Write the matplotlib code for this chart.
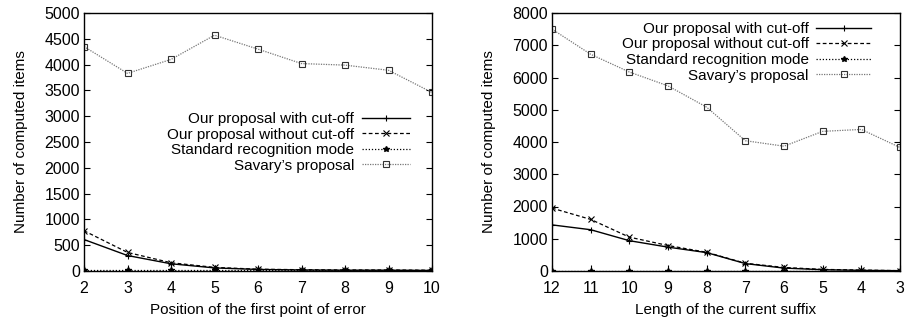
import matplotlib.pyplot as plt
import numpy as np

# left panel: position of first point of error
pos_error = [2, 3, 4, 5, 6, 7, 8, 9, 10]
left_cutoff = [610, 300, 140, 60, 30, 20, 15, 15, 10]
left_nocutoff = [780, 360, 160, 70, 35, 25, 20, 20, 15]
left_standard = [10, 10, 10, 10, 10, 10, 10, 10, 10]
left_savary = [4350, 3830, 4100, 4570, 4300, 4020, 3990, 3890, 3460]

# right panel: length of current suffix (axis reversed)
suffix_len = [12, 11, 10, 9, 8, 7, 6, 5, 4, 3]
right_cutoff = [1430, 1280, 940, 740, 570, 230, 90, 40, 20, 10]
right_nocutoff = [1950, 1600, 1050, 790, 580, 240, 110, 50, 30, 10]
right_standard = [10, 10, 10, 10, 10, 10, 10, 10, 10, 10]
right_savary = [7500, 6720, 6170, 5740, 5080, 4040, 3870, 4330, 4390, 3830]

labels = ["Our proposal with cut-off", "Our proposal without cut-off",
          "Standard recognition mode", "Savary\u2019s proposal"]

plt.rcParams['font.family'] = ['Liberation Sans', 'DejaVu Sans']
plt.rcParams['font.size'] = 11

fig = plt.figure(figsize=(9.1, 3.21), dpi=100)
ax1 = fig.add_axes([84 / 910, 50 / 321, 348 / 910, 258 / 321])
ax2 = fig.add_axes([552 / 910, 50 / 321, 348 / 910, 258 / 321])


def draw(ax, x, cut, nocut, std, sav):
    ax.plot(x, cut, color="black", lw=1.0, ls="-", marker="+", ms=5, mew=0.8,
            label=labels[0])
    ax.plot(x, nocut, color="black", lw=0.9, ls=(0, (3, 2)), marker="x", ms=4,
            mew=0.8, label=labels[1])
    ax.plot(x, std, color="black", lw=0.9, ls=(0, (1, 1.5)), marker="*", ms=4,
            label=labels[2])
    ax.plot(x, sav, color="#777777", lw=0.9, ls=(0, (1, 1)), marker="s", ms=4,
            mfc="none", mec="#333333", mew=0.8, label=labels[3])
    ax.tick_params(direction="in", length=4, top=False, right=True,
                   labelsize=11.5)
    ax.tick_params(axis="x", pad=7)
    ax.tick_params(axis="y", pad=3)
    ax.set_ylabel("Number of computed items", labelpad=12)
    for s in ax.spines.values():
        s.set_linewidth(1.0)


draw(ax1, pos_error, left_cutoff, left_nocutoff, left_standard, left_savary)
ax1.set_xlim(2, 10)
ax1.set_ylim(0, 5000)
ax1.set_xticks(pos_error)
ax1.set_yticks(np.arange(0, 5001, 500))
ax1.set_xlabel("Position of the first point of error", labelpad=5)
ax1.legend(loc="upper right", bbox_to_anchor=(0.96, 0.645), frameon=False,
           markerfirst=False, handlelength=3.2, handletextpad=0.5,
           labelspacing=0.1, borderpad=0)

draw(ax2, suffix_len, right_cutoff, right_nocutoff, right_standard, right_savary)
ax2.set_xlim(12, 3)
ax2.set_ylim(0, 8000)
ax2.set_xticks(suffix_len)
ax2.set_yticks(np.arange(0, 8001, 1000))
ax2.set_xlabel("Length of the current suffix", labelpad=5)
ax2.legend(loc="upper right", bbox_to_anchor=(0.94, 0.995), frameon=False,
           markerfirst=False, handlelength=3.6, handletextpad=0.5,
           labelspacing=0.1, borderpad=0)

fig.savefig("out.png", dpi=100)
